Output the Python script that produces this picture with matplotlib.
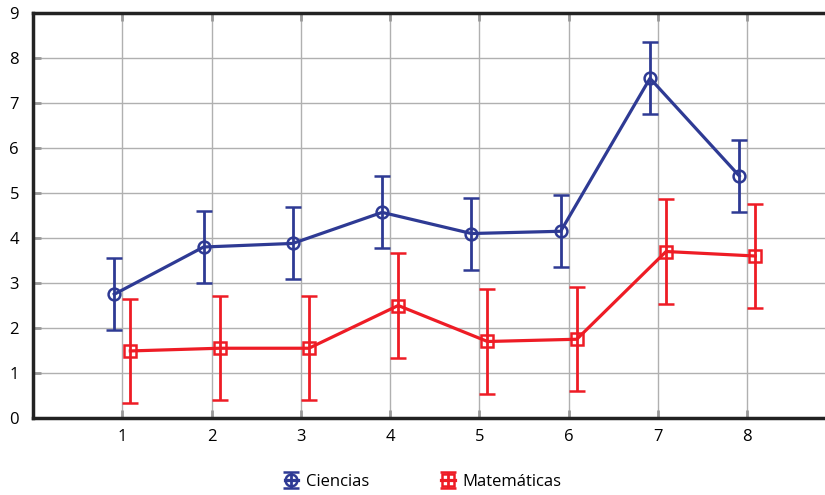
import matplotlib.pyplot as plt
import numpy as np

plt.rcParams['font.family'] = ['Open Sans', 'DejaVu Sans']

grupos = [1, 2, 3, 4, 5, 6, 7, 8]
ciencias = [2.75, 3.8, 3.88, 4.57, 4.1, 4.15, 7.55, 5.38]
ciencias_err = [0.8, 0.8, 0.8, 0.8, 0.8, 0.8, 0.8, 0.8]
mates = [1.49, 1.55, 1.55, 2.5, 1.7, 1.75, 3.7, 3.6]
mates_err = [1.16, 1.16, 1.16, 1.16, 1.16, 1.16, 1.16, 1.16]

azul = '#2e3a94'
rojo = '#ee1c25'

fig = plt.figure(figsize=(8.25, 4.95), dpi=100)
ax = fig.add_axes([0.04, 0.1556, 0.96, 0.818])

x = np.array(grupos)
ax.errorbar(x - 0.09, ciencias, yerr=ciencias_err, color=azul, lw=2.3,
            marker='o', ms=8.5, mfc='none', mew=1.8, capsize=5.5, capthick=2,
            elinewidth=2, label='Ciencias', zorder=3)
ax.errorbar(x + 0.09, mates, yerr=mates_err, color=rojo, lw=2.3,
            marker='s', ms=8.5, mfc='none', mew=1.8, capsize=5.5, capthick=2,
            elinewidth=2, label='Matemáticas', zorder=3)

ax.set_xlim(0, 8.87)
ax.set_ylim(0, 9)
ax.set_xticks(grupos)
ax.set_yticks(range(10))
ax.grid(True, color='#b0b0b0', lw=1)
ax.set_axisbelow(True)

for s in ['left', 'bottom', 'top']:
    ax.spines[s].set_linewidth(2.5)
    ax.spines[s].set_color('#222222')
ax.spines['right'].set_visible(False)

ax.tick_params(direction='in', length=6, width=2, color='#999999',
               labelsize=12, top=True, pad=8)
ax.tick_params(axis='y', pad=10)

fig.legend(loc='lower center', bbox_to_anchor=(0.513, -0.02), ncol=2,
           frameon=False, fontsize=12, handlelength=0.8, handletextpad=0.5,
           columnspacing=4.3)

fig.savefig('out.png', dpi=100)
